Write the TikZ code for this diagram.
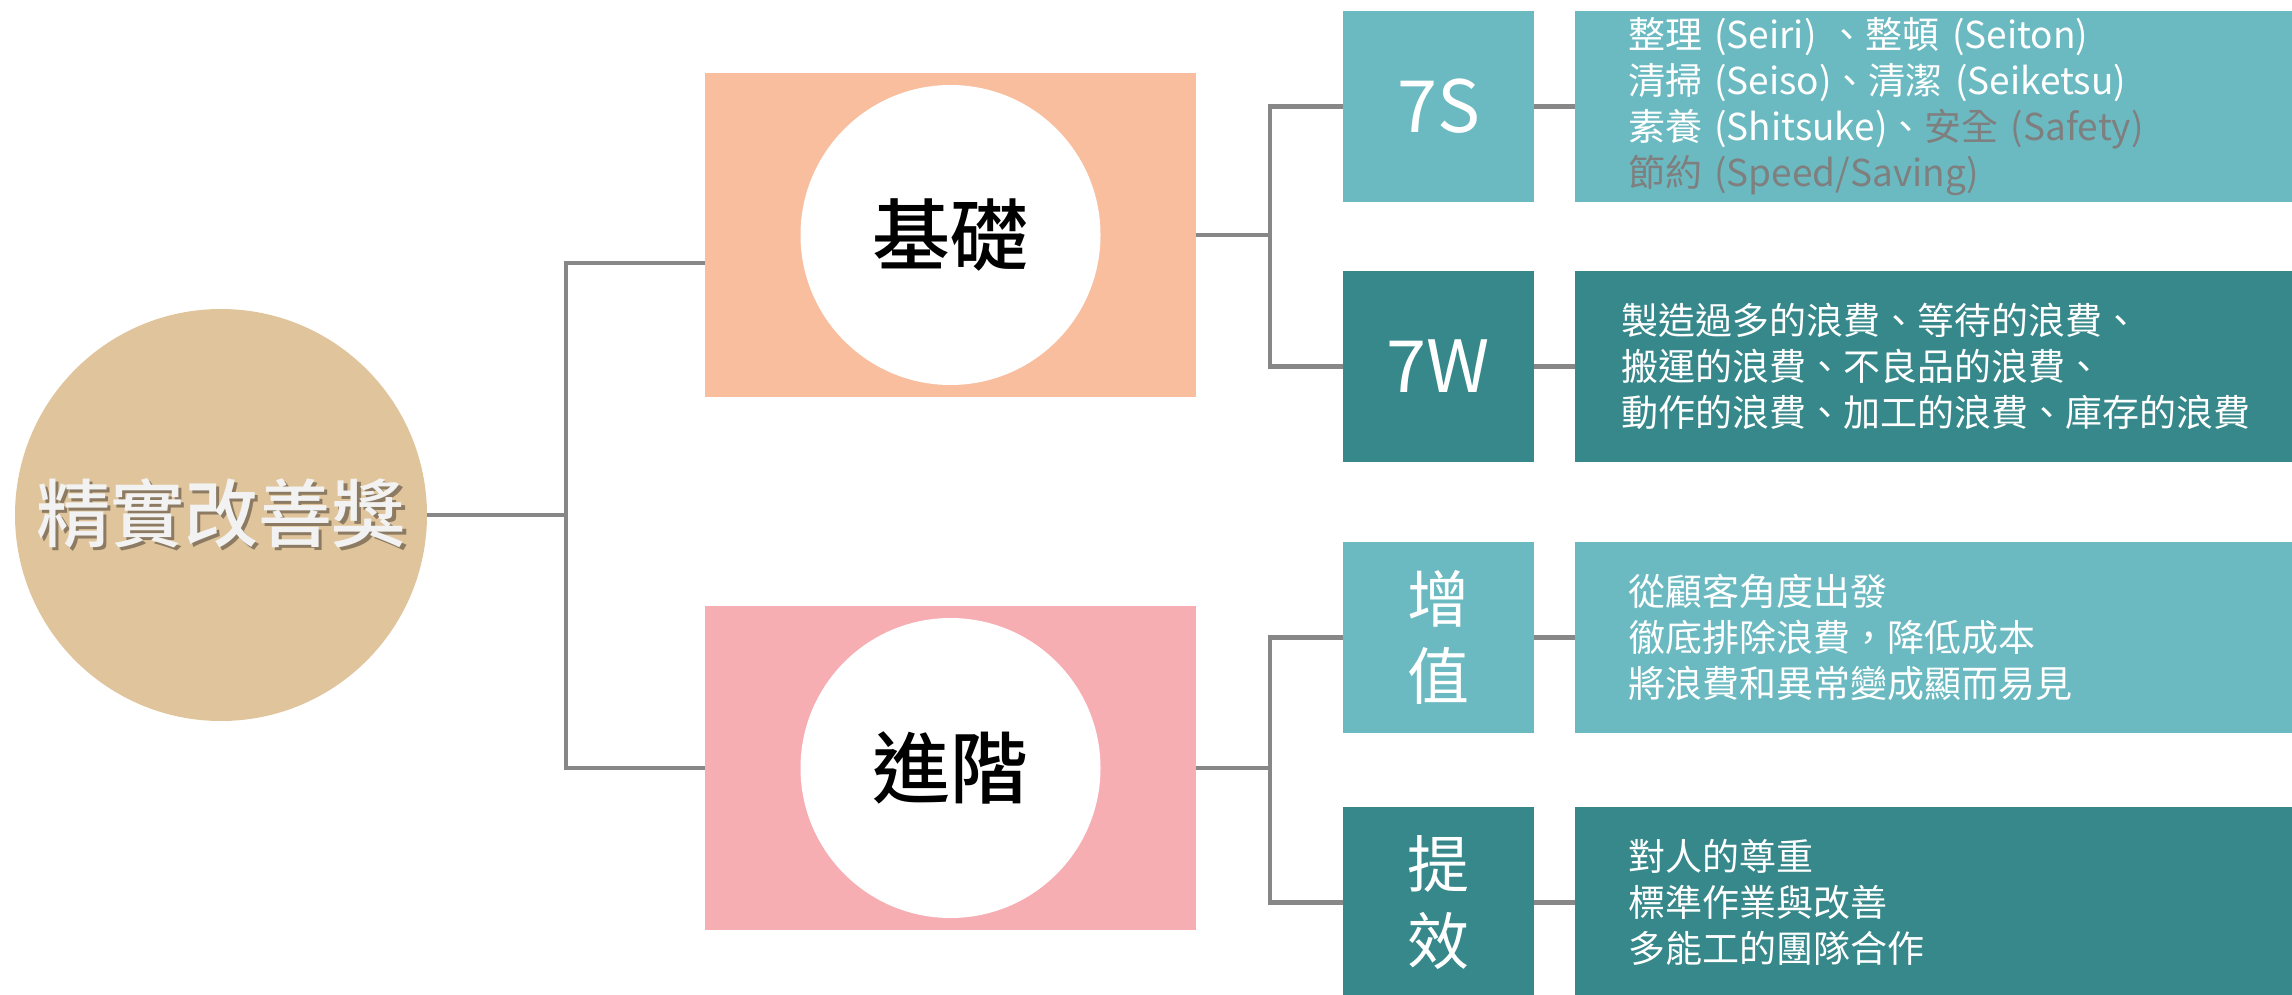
\documentclass[tikz,border=0pt]{standalone}
\usepackage{fontspec}
\setmainfont{Noto Sans CJK TC}
\newfontfamily\medcjk{Noto Sans CJK TC Medium}
\usetikzlibrary{positioning}

\definecolor{awardtan}{HTML}{E0C59C}
\definecolor{awardtext}{HTML}{F2F2F2}
\definecolor{awardshade}{HTML}{8C7B62}
\definecolor{basepeach}{HTML}{F8BE9E}
\definecolor{advpink}{HTML}{F7AEB3}
\definecolor{lightteal}{HTML}{6CBAC1}
\definecolor{darkteal}{HTML}{36888B}
\definecolor{linegray}{HTML}{878787}
\definecolor{graytext}{HTML}{7F7F7F}

\newcommand{\dropshadowtext}[1]{\makebox[0pt][l]{\hspace{3pt}\raisebox{-3pt}{\textcolor{awardshade}{#1}}}#1}

\begin{document}
\begin{tikzpicture}[x=1pt, y=-1pt, node distance=260pt,
    main node/.style={circle, fill=awardtan, minimum size=412pt, font=\fontsize{74pt}{80pt}\selectfont\medcjk, text=awardtext},
    level box/.style={rectangle, minimum width=491pt, minimum height=324pt},
    hole node/.style={circle, fill=white, minimum size=300pt, font=\fontsize{78pt}{84pt}\selectfont\medcjk},
    tag box/.style={rectangle, minimum size=191pt, text=white, align=center},
    text box/.style={rectangle, minimum height=191pt, text width=660pt, inner xsep=53pt, align=left, text=white, font=\fontsize{37pt}{46pt}\selectfont},
    conn/.style={draw=linegray, line width=4.5pt}]
        \tikzstyle{every node}=[inner sep=0pt]
        \clip (0,0) rectangle (2292,995);

          \node[main node] (1) at (221,515) {\dropshadowtext{精實改善獎}};
          \node[level box, fill=basepeach] (2) at (950.5,235) {};
          \node[hole node] (2c) at (2) {基礎};
          \node[level box, fill=advpink] (3) [below of=2, node distance=533pt] {};
          \node[hole node] (3c) at (3) {進階};

          \node[tag box, fill=lightteal, font=\fontsize{72pt}{76pt}\selectfont] (4) at (1438.5,106.5) {7S};
          \node[tag box, fill=darkteal, font=\fontsize{72pt}{76pt}\selectfont] (5) [below of=4] {7W};
          \node[tag box, fill=lightteal, font=\fontsize{62pt}{77pt}\selectfont] (6) [below of=5, node distance=271pt] {增\\值};
          \node[tag box, fill=darkteal, font=\fontsize{62pt}{77pt}\selectfont] (7) [below of=6, node distance=265pt] {提\\效};

          \node[text box, fill=lightteal] (8) [right of=4, node distance=519.5pt]
            {整理 (Seiri) 、整頓 (Seiton)\\
             清掃 (Seiso)、清潔 (Seiketsu)\\
             素養 (Shitsuke)、\textcolor{graytext}{安全 (Safety)}\\
             \textcolor{graytext}{節約 (Speed/Saving)}};
          \node[text box, fill=darkteal, inner xsep=46pt, text width=674pt] (9) [right of=5, node distance=519.5pt]
            {製造過多的浪費、等待的浪費、\\
             搬運的浪費、不良品的浪費、\\
             動作的浪費、加工的浪費、庫存的浪費};
          \node[text box, fill=lightteal] (10) [right of=6, node distance=519.5pt]
            {從顧客角度出發\\
             徹底排除浪費，降低成本\\
             將浪費和異常變成顯而易見};
          \node[text box, fill=darkteal] (11) [right of=7, node distance=519.5pt]
            {對人的尊重\\
             標準作業與改善\\
             多能工的團隊合作};

          \coordinate (j0) at (566,515);
          \coordinate (j1) at (1270,235);
          \coordinate (j2) at (1270,768);

          \draw[conn] (1) -- (j0) |- ([yshift=-28pt]2.west);
          \draw[conn] (j0) |- (3.west);
          \draw[conn] (2) -- (j1) |- (4);
          \draw[conn] (j1) |- (5);
          \draw[conn] (3) -- (j2) |- (6);
          \draw[conn] (j2) |- (7);
          \draw[conn] (4) -- (8);
          \draw[conn] (5) -- (9);
          \draw[conn] (6) -- (10);
          \draw[conn] (7) -- (11);

        \end{tikzpicture}
\end{document}
